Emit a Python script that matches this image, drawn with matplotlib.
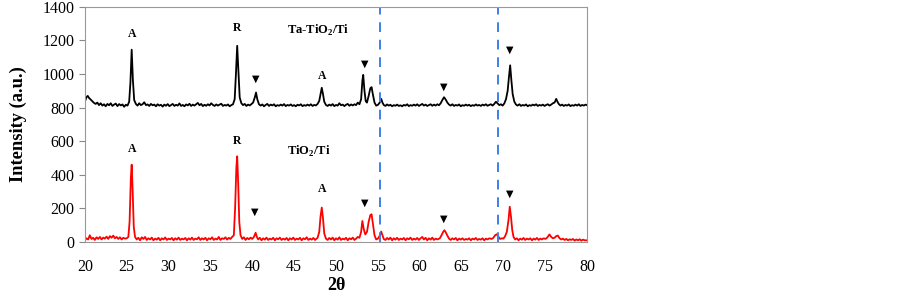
import matplotlib
matplotlib.use("Agg")
from matplotlib import pyplot as plt

plt.rcParams['font.family'] = ['Liberation Serif', 'DejaVu Sans']
plt.rcParams['mathtext.fontset'] = 'custom'
plt.rcParams['mathtext.rm'] = 'Liberation Serif'
plt.rcParams['mathtext.bf'] = 'Liberation Serif:bold'

# Ta-TiO2/Ti pattern (2theta, intensity)
ta_points = [
    (20.0, 835), (20.2, 862), (20.35, 870), (20.5, 858), (20.7, 848), (20.9, 838),
    (21.1, 828), (21.3, 822), (21.5, 830), (21.7, 815), (21.9, 826), (22.1, 812),
    (22.3, 820), (22.5, 808), (22.7, 822), (22.9, 814), (23.1, 826), (23.3, 810),
    (23.5, 818), (23.7, 824), (23.9, 809), (24.1, 821), (24.3, 813), (24.5, 819),
    (24.7, 805), (24.9, 817), (25.1, 812), (25.3, 835), (25.45, 950), (25.6, 1145),
    (25.75, 960), (25.9, 845), (26.1, 822), (26.3, 812), (26.5, 826), (26.7, 815),
    (26.9, 820), (27.1, 832), (27.3, 815), (27.5, 819), (27.7, 810), (27.9, 822),
    (28.1, 814), (28.3, 818), (28.5, 808), (28.7, 820), (28.9, 812), (29.1, 817),
    (29.3, 806), (29.5, 818), (29.7, 811), (29.9, 821), (30.1, 809), (30.3, 815),
    (30.5, 822), (30.7, 810), (30.9, 817), (31.1, 812), (31.3, 825), (31.5, 810),
    (31.7, 816), (31.9, 808), (32.1, 819), (32.3, 813), (32.5, 823), (32.7, 810),
    (32.9, 818), (33.1, 812), (33.3, 820), (33.5, 828), (33.7, 814), (33.9, 822),
    (34.1, 809), (34.3, 817), (34.5, 811), (34.7, 820), (34.9, 813), (35.1, 826),
    (35.3, 816), (35.5, 810), (35.7, 819), (35.9, 812), (36.1, 818), (36.3, 823),
    (36.5, 810), (36.7, 816), (36.9, 812), (37.1, 819), (37.3, 808), (37.5, 815),
    (37.7, 820), (37.9, 850), (38.05, 1000), (38.2, 1168), (38.35, 1010), (38.5, 860),
    (38.7, 826), (38.9, 815), (39.1, 822), (39.3, 810), (39.5, 818), (39.7, 813),
    (39.9, 821), (40.1, 830), (40.3, 860), (40.45, 890), (40.6, 850), (40.8, 820),
    (41.0, 812), (41.2, 819), (41.4, 808), (41.6, 816), (41.8, 822), (42.0, 810),
    (42.2, 818), (42.4, 813), (42.6, 820), (42.8, 808), (43.0, 815), (43.2, 811),
    (43.4, 818), (43.6, 812), (43.8, 821), (44.0, 809), (44.2, 816), (44.4, 812),
    (44.6, 819), (44.8, 810), (45.0, 815), (45.2, 808), (45.4, 817), (45.6, 813),
    (45.8, 820), (46.0, 809), (46.2, 815), (46.4, 811), (46.6, 818), (46.8, 812),
    (47.0, 820), (47.2, 810), (47.4, 816), (47.6, 813), (47.8, 822), (48.0, 840),
    (48.15, 880), (48.3, 918), (48.45, 880), (48.6, 835), (48.8, 816), (49.0, 810),
    (49.2, 818), (49.4, 812), (49.6, 821), (49.8, 809), (50.0, 816), (50.2, 812),
    (50.4, 826), (50.6, 814), (50.8, 818), (51.0, 809), (51.2, 817), (51.4, 822),
    (51.6, 811), (51.8, 819), (52.0, 813), (52.2, 820), (52.4, 815), (52.6, 830),
    (52.8, 820), (53.0, 850), (53.15, 960), (53.25, 995), (53.4, 900), (53.55, 838),
    (53.7, 830), (53.9, 870), (54.1, 915), (54.25, 922), (54.4, 880), (54.6, 830),
    (54.8, 812), (55.0, 816), (55.2, 828), (55.4, 852), (55.55, 830), (55.7, 816),
    (55.9, 810), (56.1, 819), (56.3, 812), (56.5, 817), (56.7, 808), (56.9, 815),
    (57.1, 811), (57.3, 818), (57.5, 810), (57.7, 814), (57.9, 808), (58.1, 816),
    (58.3, 812), (58.5, 820), (58.7, 809), (58.9, 815), (59.1, 811), (59.3, 818),
    (59.5, 812), (59.7, 820), (59.9, 810), (60.1, 816), (60.3, 822), (60.5, 812),
    (60.7, 818), (60.9, 810), (61.1, 815), (61.3, 820), (61.5, 811), (61.7, 818),
    (61.9, 812), (62.1, 820), (62.3, 814), (62.5, 826), (62.7, 845), (62.9, 862),
    (63.1, 848), (63.3, 830), (63.5, 818), (63.7, 812), (63.9, 820), (64.1, 810),
    (64.3, 816), (64.5, 812), (64.7, 819), (64.9, 808), (65.1, 815), (65.3, 811),
    (65.5, 818), (65.7, 812), (65.9, 817), (66.1, 809), (66.3, 815), (66.5, 811),
    (66.7, 819), (66.9, 812), (67.1, 816), (67.3, 810), (67.5, 818), (67.7, 813),
    (67.9, 820), (68.1, 811), (68.3, 816), (68.5, 820), (68.7, 812), (68.9, 822),
    (69.1, 835), (69.3, 825), (69.5, 815), (69.7, 820), (69.9, 812), (70.1, 825),
    (70.3, 850), (70.5, 900), (70.65, 980), (70.8, 1052), (70.95, 960), (71.1, 880),
    (71.3, 835), (71.5, 818), (71.7, 812), (71.9, 820), (72.1, 810), (72.3, 816),
    (72.5, 812), (72.7, 819), (72.9, 808), (73.1, 815), (73.3, 811), (73.5, 818),
    (73.7, 813), (73.9, 820), (74.1, 810), (74.3, 816), (74.5, 812), (74.7, 818),
    (74.9, 810), (75.1, 816), (75.3, 820), (75.5, 812), (75.7, 818), (75.9, 826),
    (76.1, 830), (76.3, 852), (76.45, 835), (76.6, 822), (76.8, 812), (77.0, 818),
    (77.2, 810), (77.4, 816), (77.6, 812), (77.8, 819), (78.0, 809), (78.2, 815),
    (78.4, 811), (78.6, 818), (78.8, 812), (79.0, 820), (79.2, 810), (79.4, 816),
    (79.6, 812), (79.8, 818), (80.0, 814),
]

# TiO2/Ti pattern
ti_points = [
    (20.0, 10), (20.2, 22), (20.4, 15), (20.6, 40), (20.8, 18), (21.0, 25),
    (21.2, 12), (21.4, 28), (21.6, 18), (21.8, 30), (22.0, 15), (22.2, 26),
    (22.4, 20), (22.6, 32), (22.8, 18), (23.0, 35), (23.2, 25), (23.4, 38),
    (23.6, 22), (23.8, 30), (24.0, 18), (24.2, 28), (24.4, 15), (24.6, 25),
    (24.8, 20), (25.0, 22), (25.2, 30), (25.35, 120), (25.5, 380), (25.6, 460),
    (25.72, 300), (25.85, 90), (26.0, 30), (26.2, 15), (26.4, 25), (26.6, 10),
    (26.8, 28), (27.0, 18), (27.2, 30), (27.4, 12), (27.6, 22), (27.8, 15),
    (28.0, 26), (28.2, 10), (28.4, 20), (28.6, 14), (28.8, 25), (29.0, 10),
    (29.2, 22), (29.4, 15), (29.6, 27), (29.8, 12), (30.0, 20), (30.2, 15),
    (30.4, 24), (30.6, 10), (30.8, 22), (31.0, 14), (31.2, 26), (31.4, 12),
    (31.6, 20), (31.8, 15), (32.0, 24), (32.2, 10), (32.4, 22), (32.6, 14),
    (32.8, 26), (33.0, 12), (33.2, 20), (33.4, 16), (33.6, 28), (33.8, 12),
    (34.0, 22), (34.2, 15), (34.4, 25), (34.6, 10), (34.8, 22), (35.0, 16),
    (35.2, 28), (35.4, 12), (35.6, 20), (35.8, 15), (36.0, 30), (36.2, 12),
    (36.4, 22), (36.6, 18), (36.8, 28), (37.0, 14), (37.2, 25), (37.4, 18),
    (37.6, 30), (37.8, 40), (37.95, 200), (38.1, 440), (38.2, 510), (38.32, 350),
    (38.45, 120), (38.6, 40), (38.8, 18), (39.0, 28), (39.2, 12), (39.4, 24),
    (39.6, 16), (39.8, 26), (40.0, 18), (40.2, 30), (40.4, 55), (40.55, 30),
    (40.7, 15), (40.9, 25), (41.1, 10), (41.3, 22), (41.5, 14), (41.7, 26),
    (41.9, 12), (42.1, 20), (42.3, 15), (42.5, 25), (42.7, 10), (42.9, 22),
    (43.1, 16), (43.3, 26), (43.5, 12), (43.7, 20), (43.9, 14), (44.1, 24),
    (44.3, 10), (44.5, 22), (44.7, 15), (44.9, 26), (45.1, 12), (45.3, 20),
    (45.5, 15), (45.7, 25), (45.9, 10), (46.1, 22), (46.3, 16), (46.5, 28),
    (46.7, 12), (46.9, 20), (47.1, 14), (47.3, 24), (47.5, 12), (47.8, 25),
    (48.0, 60), (48.15, 150), (48.3, 205), (48.45, 140), (48.6, 50), (48.8, 20),
    (49.0, 12), (49.2, 24), (49.4, 15), (49.6, 26), (49.8, 10), (50.0, 22),
    (50.2, 14), (50.4, 28), (50.6, 12), (50.8, 20), (51.0, 15), (51.2, 25),
    (51.4, 10), (51.6, 22), (51.8, 16), (52.0, 26), (52.2, 12), (52.4, 20),
    (52.6, 30), (52.8, 25), (53.0, 60), (53.15, 125), (53.3, 80), (53.5, 45),
    (53.7, 60), (53.9, 120), (54.1, 160), (54.25, 165), (54.4, 110), (54.6, 40),
    (54.8, 15), (55.0, 20), (55.2, 35), (55.4, 62), (55.55, 40), (55.7, 18),
    (55.9, 12), (56.1, 24), (56.3, 15), (56.5, 26), (56.7, 10), (56.9, 22),
    (57.1, 14), (57.3, 25), (57.5, 12), (57.7, 20), (57.9, 15), (58.1, 24),
    (58.3, 10), (58.5, 22), (58.7, 16), (58.9, 26), (59.1, 12), (59.3, 20),
    (59.5, 14), (59.7, 24), (59.9, 12), (60.1, 22), (60.3, 30), (60.5, 15),
    (60.7, 25), (60.9, 10), (61.1, 22), (61.3, 14), (61.5, 26), (61.7, 12),
    (61.9, 20), (62.1, 15), (62.4, 22), (62.6, 40), (62.8, 60), (62.95, 70),
    (63.1, 58), (63.3, 38), (63.5, 20), (63.7, 12), (63.9, 22), (64.1, 15),
    (64.3, 24), (64.5, 10), (64.7, 20), (64.9, 14), (65.1, 22), (65.3, 12),
    (65.5, 18), (65.7, 14), (65.9, 22), (66.1, 10), (66.3, 20), (66.5, 15),
    (66.7, 24), (66.9, 12), (67.1, 18), (67.3, 14), (67.5, 22), (67.7, 10),
    (67.9, 20), (68.1, 15), (68.3, 22), (68.6, 18), (68.8, 25), (69.0, 40),
    (69.2, 46), (69.4, 30), (69.6, 18), (69.8, 22), (70.0, 20), (70.2, 35),
    (70.4, 60), (70.6, 130), (70.75, 210), (70.9, 150), (71.05, 70), (71.2, 30),
    (71.4, 15), (71.6, 22), (71.8, 10), (72.0, 20), (72.2, 14), (72.4, 24),
    (72.6, 12), (72.8, 20), (73.0, 15), (73.2, 22), (73.4, 10), (73.6, 20),
    (73.8, 14), (74.0, 24), (74.2, 12), (74.4, 20), (74.6, 15), (74.8, 22),
    (75.0, 18), (75.2, 25), (75.4, 38), (75.5, 45), (75.7, 30), (75.9, 22),
    (76.1, 25), (76.3, 35), (76.5, 38), (76.7, 22), (76.9, 15), (77.1, 20),
    (77.3, 12), (77.5, 18), (77.7, 10), (77.9, 16), (78.1, 12), (78.3, 18),
    (78.5, 8), (78.7, 15), (78.9, 10), (79.1, 16), (79.3, 8), (79.5, 14),
    (79.7, 10), (80.0, 10),
]

# phase labels: (2theta, y, text)
ta_labels = [(25.6, 1240, 'A'), (38.2, 1275, 'R'), (40.4, 970, '▼'), (48.3, 990, 'A'),
             (53.4, 1060, '▼'), (62.9, 925, '▼'), (70.8, 1145, '▼')]
ti_labels = [(25.6, 555, 'A'), (38.2, 600, 'R'), (40.3, 180, '▼'), (48.3, 315, 'A'),
             (53.4, 235, '▼'), (62.9, 140, '▼'), (70.8, 290, '▼')]

dashed_positions = [55.3, 69.3]

fig = plt.figure(figsize=(9.02, 2.98), dpi=100)
ax = fig.add_axes([0.094, 0.188, 0.557, 0.789])

ta_x, ta_y = zip(*ta_points)
ti_x, ti_y = zip(*ti_points)
ax.plot(ta_x, ta_y, color='black', lw=1.3)
ax.plot(ti_x, ti_y, color='#ff0000', lw=1.3)

for xv in dashed_positions:
    ax.axvline(xv, color='#3f7fe8', lw=1.4, ls=(0, (5, 4)))

for x, y, t in ta_labels + ti_labels:
    if t == '▼':
        ax.text(x, y, t, ha='center', va='center', fontsize=7, family='DejaVu Sans')
    else:
        ax.text(x, y, t, ha='center', va='center', fontsize=8.5, fontweight='bold')

ax.text(44.1, 1262, r'Ta-TiO$_\mathbf{2}$/Ti', ha='left', va='center', fontsize=9, fontweight='bold')
ax.text(44.1, 540, r'TiO$_\mathbf{2}$/Ti', ha='left', va='center', fontsize=9, fontweight='bold')

ax.set_xlim(20, 80)
ax.set_ylim(0, 1400)
ax.set_xticks(range(20, 81, 5))
ax.set_yticks(range(0, 1401, 200))
ax.tick_params(axis='both', labelsize=11.5, colors='#888888', labelcolor='black')
ax.tick_params(axis='x', length=0, pad=12)
ax.tick_params(axis='y', length=4, direction='out')
for s in ax.spines.values():
    s.set_color('#999999')
    s.set_linewidth(0.8)

ax.set_xlabel('2θ', fontsize=13, fontweight='bold', labelpad=1.5)
ax.set_ylabel('Intensity (a.u.)', fontsize=13.3, fontweight='bold', labelpad=11)

fig.savefig('out.png', dpi=100)
